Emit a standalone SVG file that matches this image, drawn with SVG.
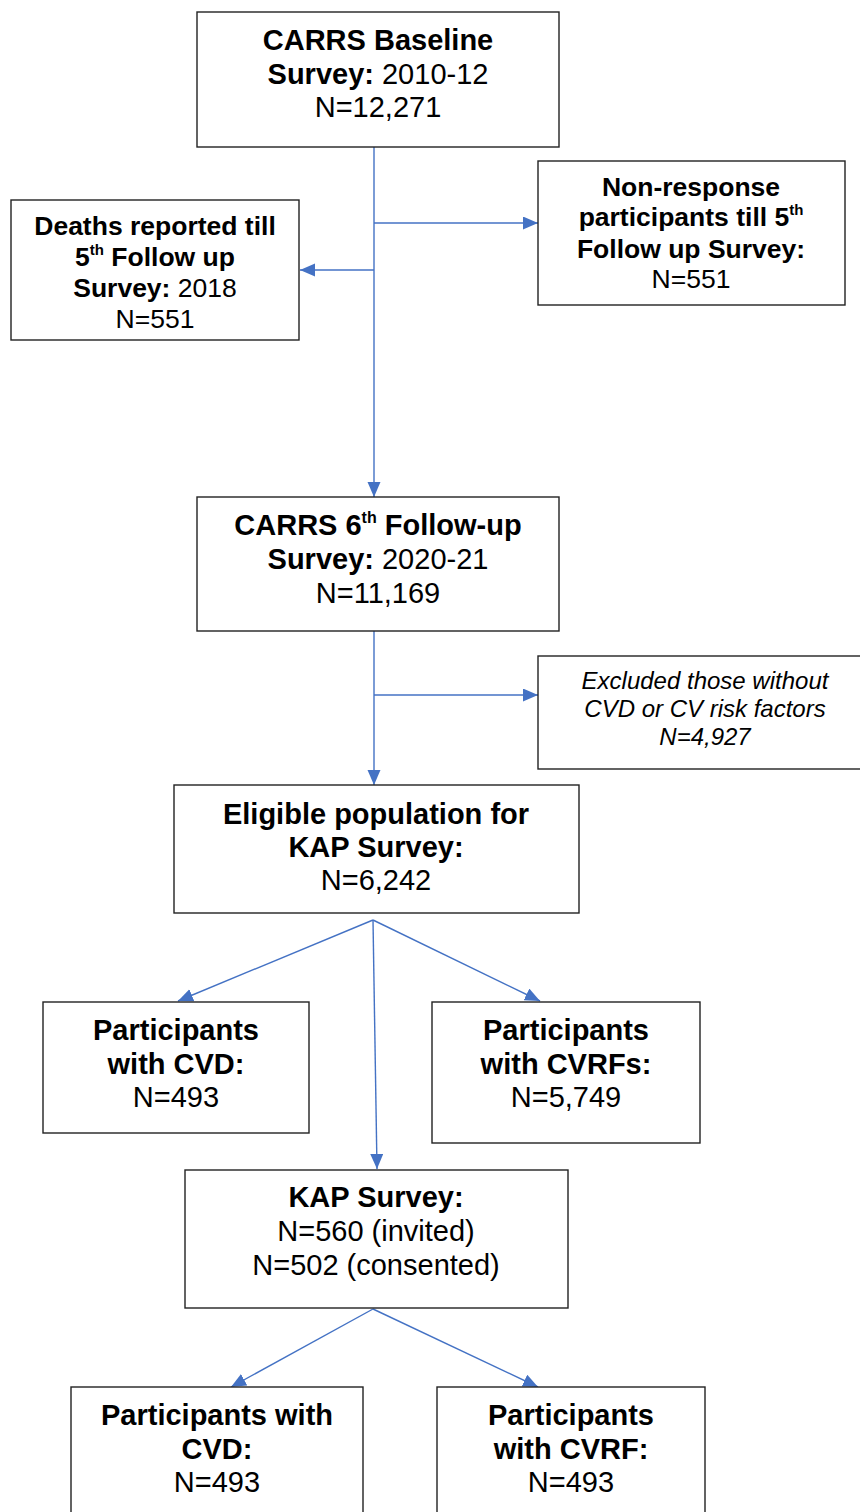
<svg xmlns="http://www.w3.org/2000/svg" width="860" height="1512" viewBox="0 0 860 1512">
<style>
.box{fill:#fff;stroke:#222;stroke-width:1.4}
.t{font-family:"Liberation Sans",Arial,sans-serif;text-anchor:middle;fill:#000}
.l{font-size:29px}
.m{font-size:26.5px}
.s{font-size:24px;font-style:italic}
.b{font-weight:bold}
.c{stroke:#4472C4;stroke-width:1.4;fill:none}
</style>
<defs>
<marker id="ah" markerUnits="userSpaceOnUse" markerWidth="16" markerHeight="14" refX="15" refY="6.5" orient="auto">
<path d="M0,0 L15,6.5 L0,13 z" fill="#4472C4"/>
</marker>
</defs>
<rect width="860" height="1512" fill="#fff"/>
<g id="connectors">
<line class="c" x1="374" y1="147" x2="374" y2="497" marker-end="url(#ah)"/>
<line class="c" x1="374" y1="223" x2="538" y2="223" marker-end="url(#ah)"/>
<line class="c" x1="374" y1="270" x2="300" y2="270" marker-end="url(#ah)"/>
<line class="c" x1="374" y1="631" x2="374" y2="785" marker-end="url(#ah)"/>
<line class="c" x1="374" y1="695" x2="538" y2="695" marker-end="url(#ah)"/>
<line class="c" x1="373" y1="920" x2="178" y2="1001" marker-end="url(#ah)"/>
<line class="c" x1="373" y1="920" x2="377" y2="1169" marker-end="url(#ah)"/>
<line class="c" x1="373" y1="920" x2="540" y2="1001" marker-end="url(#ah)"/>
<line class="c" x1="373" y1="1309" x2="231" y2="1387" marker-end="url(#ah)"/>
<line class="c" x1="373" y1="1309" x2="538" y2="1387" marker-end="url(#ah)"/>
</g>
<g id="baseline">
<rect class="box" x="197" y="12" width="362" height="135"/>
<text class="t l" x="378" y="50"><tspan class="b">CARRS Baseline</tspan></text>
<text class="t l" x="378" y="84"><tspan class="b">Survey:</tspan> 2010-12</text>
<text class="t l" x="378" y="117">N=12,271</text>
</g>
<g id="deaths">
<rect class="box" x="11" y="200" width="288" height="140"/>
<text class="t m b" x="155" y="235">Deaths reported till</text>
<text class="t m b" x="155" y="266">5<tspan font-size="15" dy="-11">th</tspan><tspan dy="11"> Follow up</tspan></text>
<text class="t m" x="155" y="297"><tspan class="b">Survey:</tspan> 2018</text>
<text class="t m" x="155" y="328">N=551</text>
</g>
<g id="nonresponse">
<rect class="box" x="538" y="161" width="307" height="144"/>
<text class="t m b" x="691" y="196">Non-response</text>
<text class="t m b" x="691" y="226">participants till 5<tspan font-size="15" dy="-11">th</tspan></text>
<text class="t m b" x="691" y="258">Follow up Survey:</text>
<text class="t m" x="691" y="288">N=551</text>
</g>
<g id="followup6">
<rect class="box" x="197" y="497" width="362" height="134"/>
<text class="t l b" x="378" y="535">CARRS 6<tspan font-size="16" dy="-12">th</tspan><tspan dy="12"> Follow-up</tspan></text>
<text class="t l" x="378" y="569"><tspan class="b">Survey:</tspan> 2020-21</text>
<text class="t l" x="378" y="603">N=11,169</text>
</g>
<g id="excluded">
<rect class="box" x="538" y="656" width="330" height="113"/>
<text class="t s" x="705" y="689">Excluded those without</text>
<text class="t s" x="705" y="717">CVD or CV risk factors</text>
<text class="t s" x="705" y="745">N=4,927</text>
</g>
<g id="eligible">
<rect class="box" x="174" y="785" width="405" height="128"/>
<text class="t l b" x="376" y="824">Eligible population for</text>
<text class="t l b" x="376" y="857">KAP Survey:</text>
<text class="t l" x="376" y="890">N=6,242</text>
</g>
<g id="cvd">
<rect class="box" x="43" y="1002" width="266" height="131"/>
<text class="t l b" x="176" y="1040">Participants</text>
<text class="t l b" x="176" y="1074">with CVD:</text>
<text class="t l" x="176" y="1107">N=493</text>
</g>
<g id="cvrfs">
<rect class="box" x="432" y="1002" width="268" height="141"/>
<text class="t l b" x="566" y="1040">Participants</text>
<text class="t l b" x="566" y="1074">with CVRFs:</text>
<text class="t l" x="566" y="1107">N=5,749</text>
</g>
<g id="kap">
<rect class="box" x="185" y="1170" width="383" height="138"/>
<text class="t l b" x="376" y="1207">KAP Survey:</text>
<text class="t l" x="376" y="1241">N=560 (invited)</text>
<text class="t l" x="376" y="1275">N=502 (consented)</text>
</g>
<g id="kapcvd">
<rect class="box" x="71" y="1387" width="292" height="140"/>
<text class="t l b" x="217" y="1425">Participants with</text>
<text class="t l b" x="217" y="1459">CVD:</text>
<text class="t l" x="217" y="1492">N=493</text>
</g>
<g id="kapcvrf">
<rect class="box" x="437" y="1387" width="268" height="140"/>
<text class="t l b" x="571" y="1425">Participants</text>
<text class="t l b" x="571" y="1459">with CVRF:</text>
<text class="t l" x="571" y="1492">N=493</text>
</g>
</svg>
